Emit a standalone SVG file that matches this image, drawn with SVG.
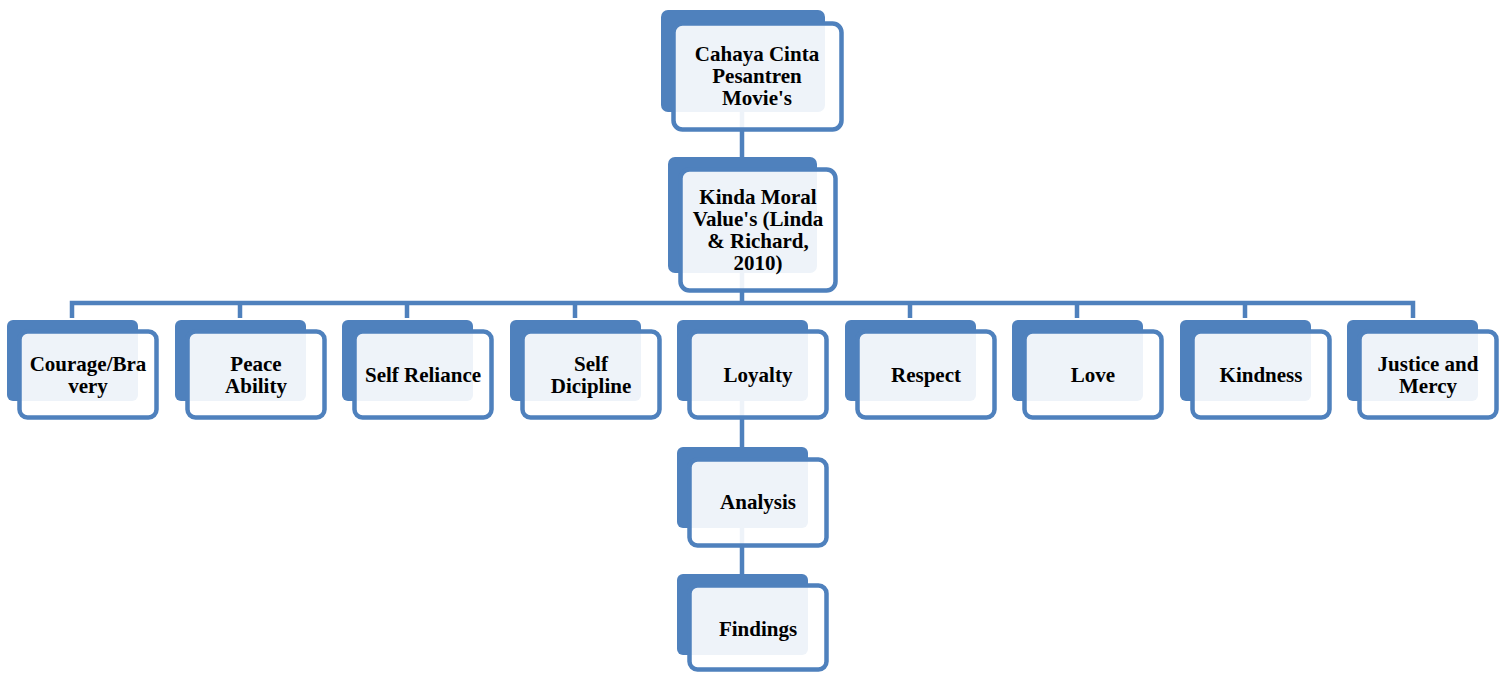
<svg xmlns="http://www.w3.org/2000/svg" width="1502" height="673" viewBox="0 0 1502 673">
<style>
.back{fill:#4F81BD}
.front{fill:#fff;fill-opacity:0.9;stroke:#4F81BD;stroke-width:4.5}
.t{font-family:"Liberation Serif","Times New Roman",serif;font-weight:bold;font-size:21px;fill:#000;text-anchor:middle}
.c{stroke:#4F81BD;stroke-width:4.5;fill:none}
</style>
<rect width="1502" height="673" fill="#fff"/>
<g id="connectors">
<path class="c" d="M742 112V167M742 273V303M72 318V303H1413V318M240 303V318M407 303V318M575 303V318M910 303V318M1077 303V318M1245 303V318M742 401V457M742 528V583"/>
</g>
<g id="n-movie">
<rect class="back" x="661" y="10" width="164" height="102" rx="7"/>
<rect class="front" x="673.5" y="23.5" width="168" height="106" rx="9"/>
<text class="t" x="757" y="61">Cahaya Cinta</text>
<text class="t" x="757" y="83">Pesantren</text>
<text class="t" x="757" y="105">Movie's</text>
</g>
<g id="n-kinda">
<rect class="back" x="668" y="157" width="149" height="116" rx="7"/>
<rect class="front" x="680.5" y="169.5" width="155" height="121" rx="9"/>
<text class="t" x="758" y="204">Kinda Moral</text>
<text class="t" x="758" y="226">Value's (Linda</text>
<text class="t" x="758" y="248">&amp; Richard,</text>
<text class="t" x="758" y="270">2010)</text>
</g>
<g id="n-courage">
<rect class="back" x="7" y="320" width="131" height="81" rx="6"/>
<rect class="front" x="19.5" y="331.5" width="137" height="86" rx="8"/>
<text class="t" x="88" y="371">Courage/Bra</text>
<text class="t" x="88" y="393">very</text>
</g>
<g id="n-peace">
<rect class="back" x="175" y="320" width="131" height="81" rx="6"/>
<rect class="front" x="187.5" y="331.5" width="137" height="86" rx="8"/>
<text class="t" x="256" y="371">Peace</text>
<text class="t" x="256" y="393">Ability</text>
</g>
<g id="n-selfreliance">
<rect class="back" x="342" y="320" width="131" height="81" rx="6"/>
<rect class="front" x="354.5" y="331.5" width="137" height="86" rx="8"/>
<text class="t" x="423" y="382">Self Reliance</text>
</g>
<g id="n-selfdicipline">
<rect class="back" x="510" y="320" width="131" height="81" rx="6"/>
<rect class="front" x="522.5" y="331.5" width="137" height="86" rx="8"/>
<text class="t" x="591" y="371">Self</text>
<text class="t" x="591" y="393">Dicipline</text>
</g>
<g id="n-loyalty">
<rect class="back" x="677" y="320" width="131" height="81" rx="6"/>
<rect class="front" x="689.5" y="331.5" width="137" height="86" rx="8"/>
<text class="t" x="758" y="382">Loyalty</text>
</g>
<g id="n-respect">
<rect class="back" x="845" y="320" width="131" height="81" rx="6"/>
<rect class="front" x="857.5" y="331.5" width="137" height="86" rx="8"/>
<text class="t" x="926" y="382">Respect</text>
</g>
<g id="n-love">
<rect class="back" x="1012" y="320" width="131" height="81" rx="6"/>
<rect class="front" x="1024.5" y="331.5" width="137" height="86" rx="8"/>
<text class="t" x="1093" y="382">Love</text>
</g>
<g id="n-kindness">
<rect class="back" x="1180" y="320" width="131" height="81" rx="6"/>
<rect class="front" x="1192.5" y="331.5" width="137" height="86" rx="8"/>
<text class="t" x="1261" y="382">Kindness</text>
</g>
<g id="n-justice">
<rect class="back" x="1347" y="320" width="131" height="81" rx="6"/>
<rect class="front" x="1359.5" y="331.5" width="137" height="86" rx="8"/>
<text class="t" x="1428" y="371">Justice and</text>
<text class="t" x="1428" y="393">Mercy</text>
</g>
<g id="n-analysis">
<rect class="back" x="677" y="447" width="131" height="81" rx="6"/>
<rect class="front" x="689.5" y="459.5" width="137" height="86" rx="8"/>
<text class="t" x="758" y="509">Analysis</text>
</g>
<g id="n-findings">
<rect class="back" x="677" y="574" width="131" height="81" rx="6"/>
<rect class="front" x="689.5" y="585.5" width="137" height="84" rx="8"/>
<text class="t" x="758" y="636">Findings</text>
</g>
</svg>
